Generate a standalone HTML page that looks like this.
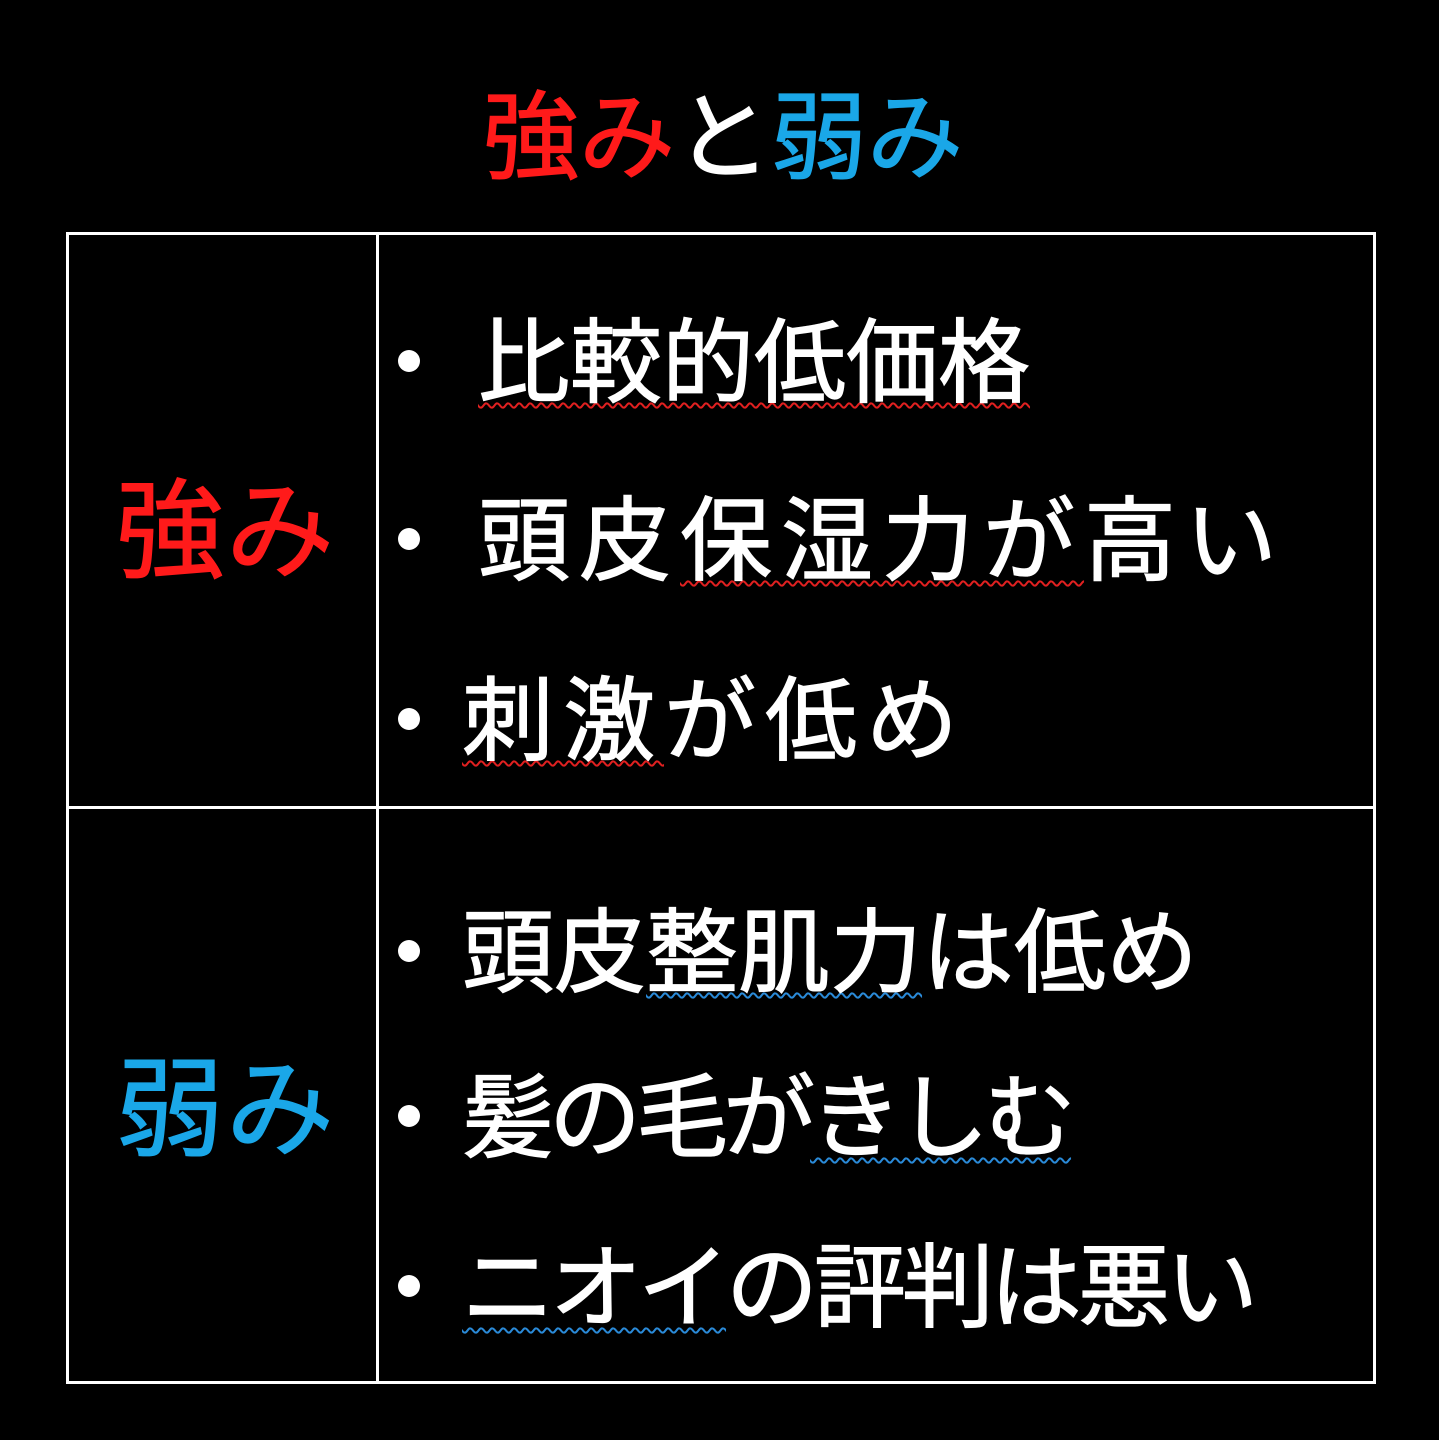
<!DOCTYPE html>
<html><head><meta charset="utf-8"><style>
html,body{margin:0;padding:0;background:#000;}
body{width:1439px;height:1440px;position:relative;overflow:hidden;font-family:"Liberation Sans","Noto Sans CJK JP",sans-serif;color:#fff;}
.t{position:absolute;white-space:nowrap;line-height:1;-webkit-text-stroke:1.2px currentColor;}
.ln{position:absolute;background:#fff;}
.b{position:absolute;width:22px;height:22px;border-radius:50%;background:#fff;}
.ur{text-decoration:underline wavy #e02020;text-decoration-thickness:2px;text-underline-offset:7px;}
.ub{text-decoration:underline wavy #2a8ad8;text-decoration-thickness:2px;text-underline-offset:7px;}
</style></head><body>
<div class="t" style="left:483px;top:91px;font-size:96px;letter-spacing:0px;"><span style="color:#ff1a1a">強み</span><span style="color:#fff">と</span><span style="color:#1aa7e8">弱み</span></div>

<div class="ln" style="left:66px;top:232px;width:1310px;height:3px"></div>
<div class="ln" style="left:66px;top:1381px;width:1310px;height:3px"></div>
<div class="ln" style="left:66px;top:232px;width:3px;height:1152px"></div>
<div class="ln" style="left:1373px;top:232px;width:3px;height:1152px"></div>
<div class="ln" style="left:376px;top:232px;width:3px;height:1152px"></div>
<div class="ln" style="left:66px;top:806px;width:1310px;height:3px"></div>

<div class="t" style="left:116px;top:478px;font-size:108px;letter-spacing:2px;color:#ff1a1a">強み</div>
<div class="t" style="left:116px;top:1056px;font-size:108px;letter-spacing:2px;color:#1aa7e8">弱み</div>

<div class="b" style="left:398px;top:350px"></div>
<div class="b" style="left:398px;top:528px"></div>
<div class="b" style="left:398px;top:708px"></div>
<div class="b" style="left:398px;top:940px"></div>
<div class="b" style="left:398px;top:1105px"></div>
<div class="b" style="left:398px;top:1275px"></div>

<div class="t" style="left:478px;top:318px;font-size:92px"><span class="ur">比較的低価格</span></div>
<div class="t" style="left:478px;top:496px;font-size:92px;letter-spacing:9px">頭皮<span class="ur">保湿力が</span>高い</div>
<div class="t" style="left:462px;top:676px;font-size:92px;letter-spacing:9px"><span class="ur">刺激</span>が低め</div>
<div class="t" style="left:462px;top:908px;font-size:92px">頭皮<span class="ub">整肌力</span>は低め</div>
<div class="t" style="left:462px;top:1073px;font-size:92px;letter-spacing:-5px">髪の毛が<span class="ub">きしむ</span></div>
<div class="t" style="left:462px;top:1243px;font-size:92px;letter-spacing:-4px"><span class="ub">ニオイ</span>の評判は悪い</div>
</body></html>
